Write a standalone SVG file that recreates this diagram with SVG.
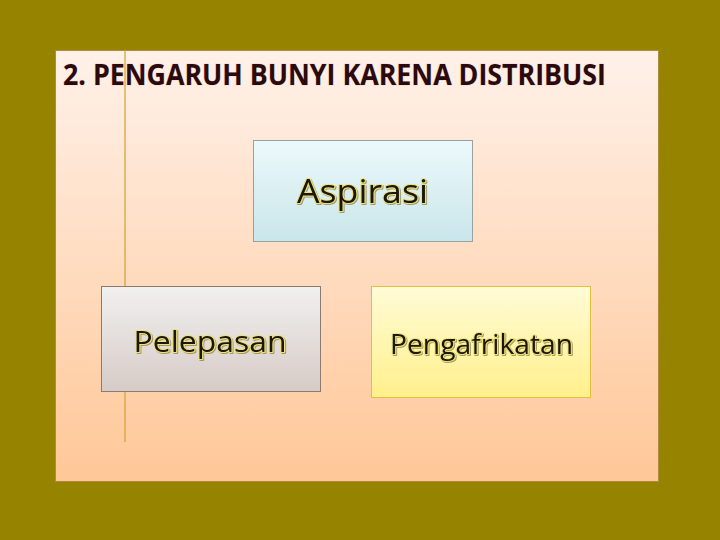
<svg xmlns="http://www.w3.org/2000/svg" width="720" height="540" viewBox="0 0 720 540">
<defs>
<linearGradient id="panel" x1="0" y1="0" x2="0" y2="1"><stop offset="0" stop-color="#fff1e9"/><stop offset="1" stop-color="#ffc797"/></linearGradient>
<linearGradient id="g1" x1="0" y1="0" x2="0" y2="1"><stop offset="0" stop-color="#ecf9fb"/><stop offset="1" stop-color="#c9e6ea"/></linearGradient>
<linearGradient id="g2" x1="0" y1="0" x2="0" y2="1"><stop offset="0" stop-color="#f1f0ef"/><stop offset="1" stop-color="#d6cbc7"/></linearGradient>
<linearGradient id="g3" x1="0" y1="0" x2="0" y2="1"><stop offset="0" stop-color="#fffbd6"/><stop offset="1" stop-color="#fff08c"/></linearGradient>
<filter id="sh" x="-5%" y="-20%" width="110%" height="140%"><feDropShadow dx="1" dy="1" stdDeviation="0.6" flood-color="#8a7a30" flood-opacity="0.7"/></filter>
</defs>
<style>
.lbl{font-family:"Open Sans","Liberation Sans",sans-serif;fill:#1a1408;stroke:#ece27a;stroke-width:2;paint-order:stroke;stroke-linejoin:round;text-anchor:middle;filter:url(#sh)}
.title{font-family:"Open Sans","Liberation Sans",sans-serif;font-weight:bold;fill:#2a0a0c;stroke:#f2d8cc;stroke-width:1;paint-order:stroke}
</style>
<rect width="720" height="540" fill="#968400"/>
<rect x="55.5" y="50.5" width="603" height="431" fill="url(#panel)" stroke="#b08a40" stroke-width="1"/>
<line x1="125" y1="50" x2="125" y2="442" stroke="#d2a030" stroke-width="1.2"/>
<text class="title" x="63" y="85" font-size="28" textLength="543" lengthAdjust="spacingAndGlyphs">2. PENGARUH BUNYI KARENA DISTRIBUSI</text>
<g id="connectors"></g>
<g id="aspirasi">
<rect x="253.5" y="140.5" width="219" height="101" fill="url(#g1)" stroke="#9aa0a0" stroke-width="1"/>
<text class="lbl" x="362.5" y="203" font-size="32" textLength="131" lengthAdjust="spacingAndGlyphs">Aspirasi</text>
</g>
<g id="pelepasan">
<rect x="101.5" y="286.5" width="219" height="105" fill="url(#g2)" stroke="#8a7a70" stroke-width="1"/>
<text class="lbl" x="210" y="352" font-size="29" textLength="153" lengthAdjust="spacingAndGlyphs">Pelepasan</text>
</g>
<g id="pengafrikatan">
<rect x="371.5" y="286.5" width="219" height="111" fill="url(#g3)" stroke="#e0c040" stroke-width="1"/>
<text class="lbl" x="481.5" y="354" font-size="27" textLength="183" lengthAdjust="spacingAndGlyphs">Pengafrikatan</text>
</g>
</svg>
